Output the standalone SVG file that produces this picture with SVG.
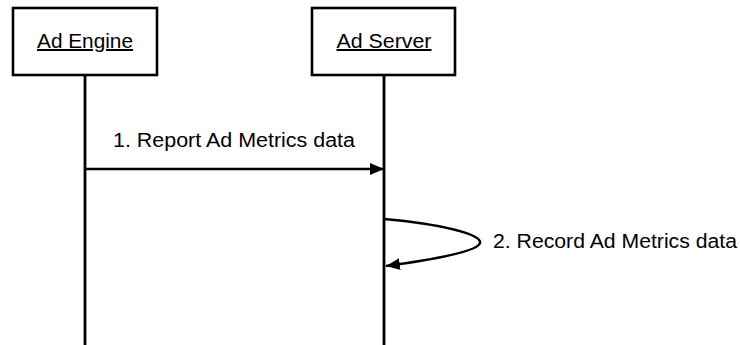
<svg xmlns="http://www.w3.org/2000/svg" width="740" height="345" viewBox="0 0 740 345">
<style>
.box{fill:#fff;stroke:#000;stroke-width:2.6}
.life{stroke:#000;stroke-width:2.8;fill:none}
.msg{stroke:#000;stroke-width:2.6;fill:none}
text{font-family:"Liberation Sans",Arial,sans-serif;font-size:20px;fill:#000}
.u{text-decoration:underline}
</style>
<defs>
<marker id="ah" markerUnits="userSpaceOnUse" markerWidth="16" markerHeight="14" refX="14" refY="6" orient="auto">
<path d="M0,0 L14,6 L0,12 Z" fill="#000"/>
</marker>
</defs>
<g id="ad-engine">
<line class="life" x1="85" y1="75" x2="85" y2="345"/>
<rect class="box" x="13" y="8" width="144" height="67"/>
<text class="u" x="85" y="48" text-anchor="middle" textLength="96" lengthAdjust="spacingAndGlyphs">Ad Engine</text>
</g>
<g id="ad-server">
<line class="life" x1="384" y1="75" x2="384" y2="345"/>
<rect class="box" x="312" y="8" width="143" height="67"/>
<text class="u" x="384" y="48" text-anchor="middle" textLength="95" lengthAdjust="spacingAndGlyphs">Ad Server</text>
</g>
<g id="connectors">
<line class="msg" x1="85" y1="169" x2="384" y2="169" marker-end="url(#ah)"/>
<text x="113" y="147" textLength="242" lengthAdjust="spacingAndGlyphs">1. Report Ad Metrics data</text>
<path class="msg" d="M384,219 C440,224 482,234 480,243 C478,252 430,260 386,266" marker-end="url(#ah)"/>
<text x="493" y="248" textLength="244" lengthAdjust="spacingAndGlyphs">2. Record Ad Metrics data</text>
</g>
</svg>
